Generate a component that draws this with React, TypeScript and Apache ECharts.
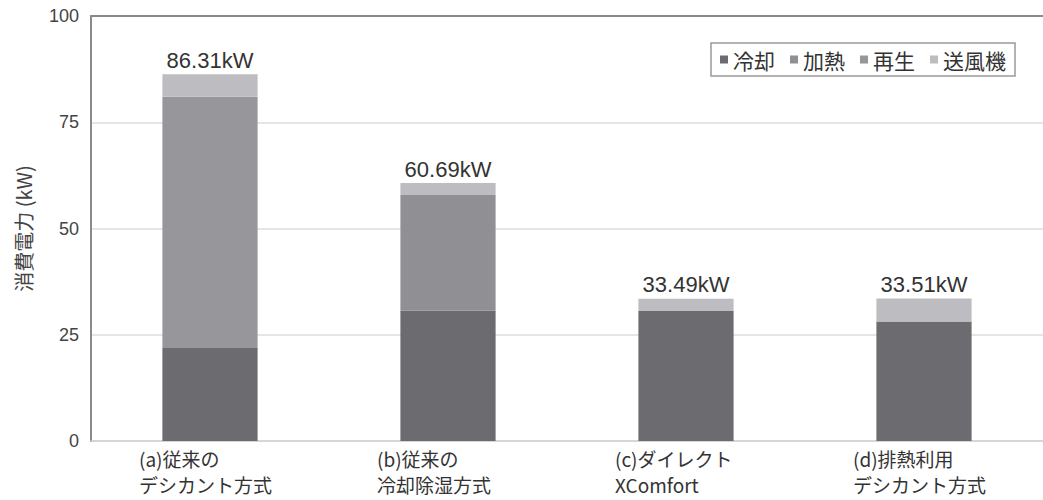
import React, { useEffect, useRef } from "react";
import * as echarts from "echarts";

const categories = [
  "(a)従来の\nデシカント方式",
  "(b)従来の\n冷却除湿方式",
  "(c)ダイレクト\nXComfort",
  "(d)排熱利用\nデシカント方式",
];
const seriesNames = ["冷却", "加熱", "再生", "送風機"];
const cooling = [21.9, 30.7, 30.6, 28.1];
const heating = [0, 27.2, 0, 0];
const regeneration = [59.1, 0, 0, 0];
const fan = [5.31, 2.79, 2.89, 5.41];
const totals = [86.31, 60.69, 33.49, 33.51];
const yTicks = [0, 25, 50, 75, 100];

const colors = ["#6c6c70", "#8f8f94", "#96969b", "#bdbdc1"];

export default function App() {
  const ref = useRef<HTMLDivElement>(null);
  useEffect(() => {
    if (!ref.current) return;
    const chart = echarts.init(ref.current, null, { renderer: "svg" });
    const values = [cooling, heating, regeneration, fan];
    const series: any[] = seriesNames.map((name, i) => ({
      name,
      type: "bar",
      stack: "total",
      barWidth: "40%",
      data: values[i],
      itemStyle: { color: colors[i] },
      xAxisIndex: 0,
      label:
        i === 3
          ? {
              show: true,
              position: "top",
              distance: 3,
              formatter: (p: any) => totals[p.dataIndex].toFixed(2) + "kW",
              fontSize: 22,
              color: "#333",
              fontFamily: "Liberation Sans, Arial, sans-serif",
            }
          : { show: false },
    }));
    chart.setOption({
      animation: false,
      backgroundColor: "#ffffff",
      grid: { left: 91, right: -11, top: 16, bottom: 59, containLabel: false },
      legend: {
        data: seriesNames,
        right: 28,
        top: 43,
        icon: "rect",
        itemWidth: 8,
        itemHeight: 8,
        itemGap: 15,
        padding: [6, 9, 6, 9],
        borderColor: "#999",
        borderWidth: 1.5,
        textStyle: {
          fontSize: 21,
          color: "#333",
          fontFamily: "Noto Sans CJK JP",
        },
      },
      xAxis: [
        {
          type: "category",
          data: categories,
          position: "bottom",
          axisLine: { lineStyle: { color: "#d0d0d0", width: 1.5 } },
          axisTick: { show: false },
          axisLabel: {
            margin: 4,
            formatter: (v: string) =>
              v
                .split("\n")
                .map((s) => "{l|" + s + "}")
                .join("\n"),
            rich: {
              l: {
                width: 142,
                align: "left",
                fontSize: 19,
                lineHeight: 26,
                color: "#333",
                fontFamily: "Noto Sans CJK JP",
              },
            },
          },
        },
        {
          type: "category",
          data: categories,
          position: "top",
          axisLine: { lineStyle: { color: "#8a8a8a", width: 2 } },
          axisTick: { show: false },
          axisLabel: { show: false },
        },
      ],
      yAxis: {
        type: "value",
        min: yTicks[0],
        max: yTicks[yTicks.length - 1],
        interval: 25,
        name: "消費電力 (kW)",
        nameLocation: "middle",
        nameRotate: 90,
        nameGap: 58,
        nameTextStyle: {
          fontSize: 20,
          color: "#444",
          fontFamily: "Noto Sans CJK JP",
        },
        axisLine: { show: true, lineStyle: { color: "#8a8a8a", width: 2 } },
        axisTick: { show: false },
        splitLine: { lineStyle: { color: "#dcdcdc", width: 1.5 } },
        axisLabel: {
          margin: 12,
          fontSize: 18,
          color: "#444",
          fontFamily: "Liberation Sans, Arial, sans-serif",
        },
      },
      series,
    });
    return () => chart.dispose();
  }, []);
  return (
    <div
      ref={ref}
      style={{ position: "fixed", left: 0, top: 0, width: 1043, height: 500 }}
    />
  );
}
